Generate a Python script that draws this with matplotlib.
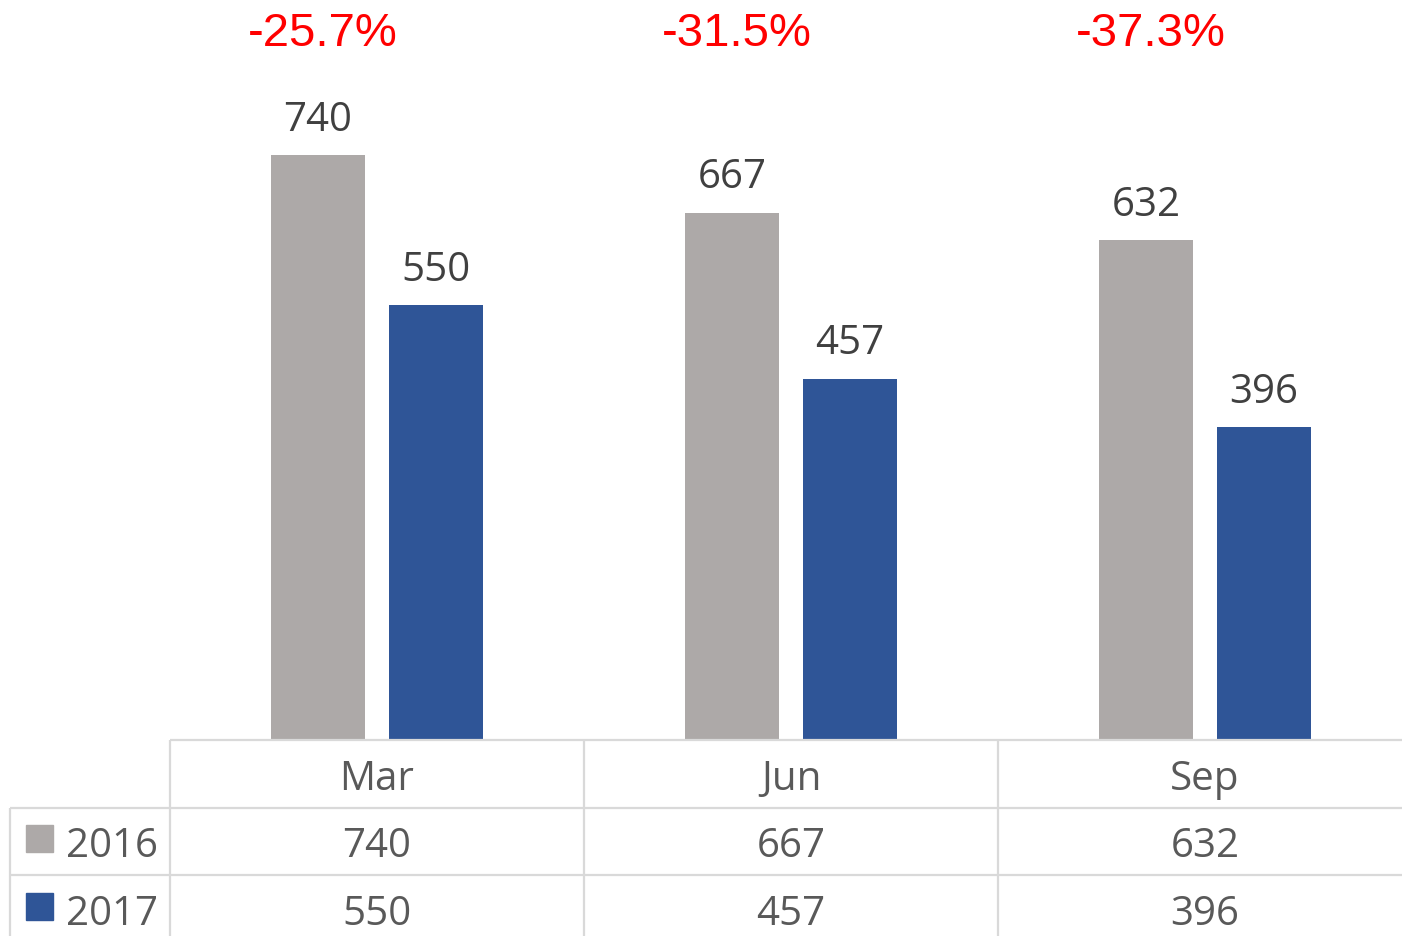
import numpy as np
import matplotlib.pyplot as plt
from matplotlib.patches import Rectangle

# data
months = ['Mar', 'Jun', 'Sep']
series = ['2016', '2017']
v2016 = [740, 667, 632]
v2017 = [550, 457, 396]
colors = ['#ADA9A8', '#2F5597']

W, H = 1402, 937
fig = plt.figure(figsize=(W / 100, H / 100), dpi=100)

# plot area: columns 414 px wide starting at x=170, baseline at y=741
left = 170 / W
width = 414 * 3 / W
base = (H - 741) / H
ax = fig.add_axes([left, base, width, 1 - base])
px_per_unit = 585 / 740.0
ax.set_ylim(0, 741 / px_per_unit)
ax.set_xlim(-0.5, 2.5)
ax.axis('off')

x = np.arange(len(months))
bw = 94 / 414
off = 59 / 414
vals = [v2016, v2017]
for k, (s, v) in enumerate(zip(series, vals)):
    xs = x + (2 * k - 1) * off
    ax.bar(xs, v, width=bw, color=colors[k])
    for xi, vi in zip(xs, v):
        ax.annotate(str(vi), (xi, vi), xytext=(0, 11), textcoords='offset points',
                    ha='center', va='bottom', fontsize=29, family='Open Sans',
                    color='#404040')

# percent change labels
for i in range(len(months)):
    pct = (v2017[i] / v2016[i] - 1) * 100
    ax.text(x[i] - off + 0.012, 1 - 46 / 741, f'{pct:.1f}%',
            transform=ax.get_xaxis_transform(), ha='center', va='baseline',
            fontsize=34, family='Liberation Sans', color='#FF0000')

# data table underneath
tax = fig.add_axes([left, 0, width, base], sharex=ax)
tax.set_ylim(196 / 67.5, 0)
tax.axis('off')
lc = '#D9D9D9'
lw = 1.6
far_left = -0.5 - 160 / 414
tax.hlines(0, -0.5, 2.5, color=lc, lw=lw, clip_on=False)
tax.hlines([1, 2], far_left, 2.5, color=lc, lw=lw, clip_on=False)
tax.vlines([-0.5, 0.5, 1.5], 0, 3, color=lc, lw=lw, clip_on=False)
tax.vlines(far_left, 1, 3, color=lc, lw=lw, clip_on=False)

tc = '#595959'
fs = 29
for i, m in enumerate(months):
    tax.text(i, 0.5, m, ha='center', va='center_baseline', fontsize=fs,
             family='Open Sans', color=tc)
for k, (s, v) in enumerate(zip(series, vals)):
    row = 1.5 + k
    tax.add_patch(Rectangle((-0.5 - 144 / 414, row - 0.237), 27 / 414, 0.4,
                            color=colors[k], clip_on=False))
    tax.text(-0.5 - 104 / 414, row, s, ha='left', va='center_baseline',
             fontsize=fs, family='Open Sans', color=tc, clip_on=False)
    for i, vi in enumerate(v):
        tax.text(i, row, str(vi), ha='center', va='center_baseline', fontsize=fs,
                 family='Open Sans', color=tc)

fig.savefig('out.png', dpi=100)
